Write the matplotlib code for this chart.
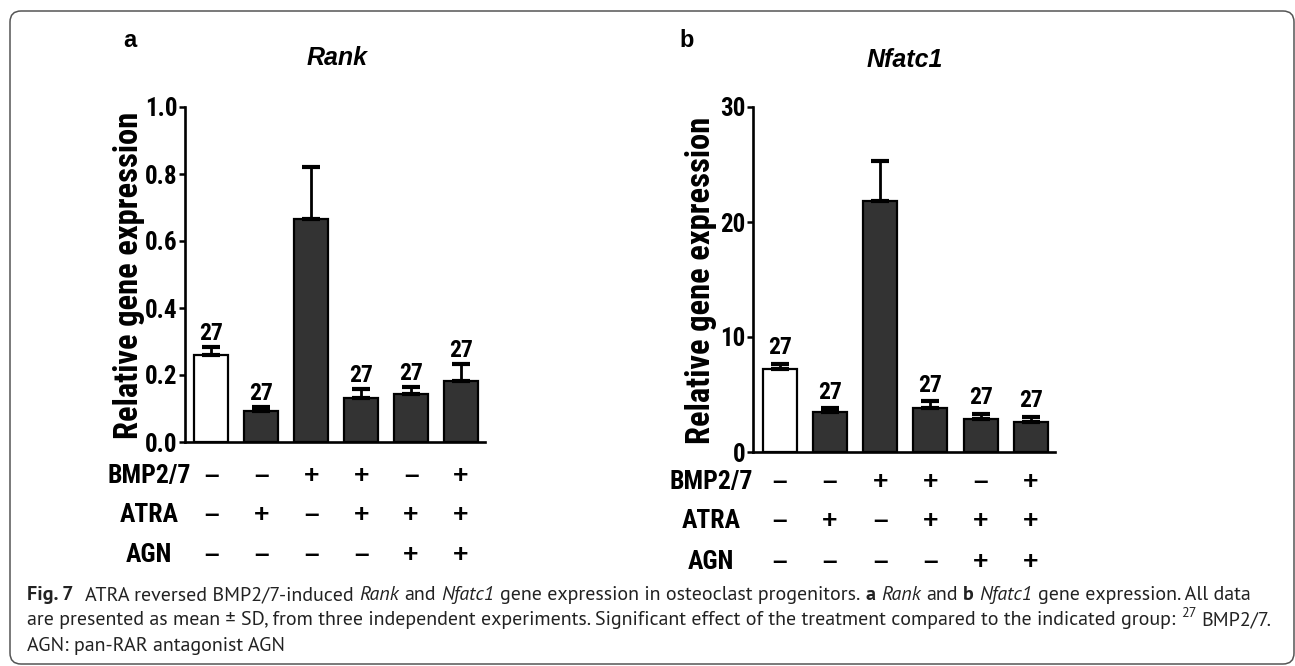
import matplotlib
matplotlib.use("Agg")
import matplotlib.pyplot as plt
from matplotlib import font_manager
from matplotlib.patches import FancyBboxPatch
from matplotlib.transforms import IdentityTransform, blended_transform_factory
import numpy as np

# data
treat_rows = ['BMP2/7', 'ATRA', 'AGN']
bmp = ['–', '–', '+', '+', '–', '+']
atra = ['–', '+', '–', '+', '+', '+']
agn = ['–', '–', '–', '–', '+', '+']
sig = ['27', '27', '', '27', '27', '27']

rank_mean = [0.26, 0.093, 0.665, 0.131, 0.143, 0.182]
rank_sd = [0.024, 0.011, 0.155, 0.027, 0.021, 0.051]
nfatc1_mean = [7.2, 3.5, 21.8, 3.8, 2.9, 2.6]
nfatc1_sd = [0.45, 0.3, 3.5, 0.6, 0.4, 0.44]
bar_colors = ['white', '#333333', '#333333', '#333333', '#333333', '#333333']

W, H = 1295, 666
fonts = font_manager.fontManager.ttflist
names = {f.name for f in fonts}


def pick(cands, default, need_bold=False):
    for c in cands:
        if c in names:
            if need_bold and not any(f.name == c and f.weight in (600, 700, 'bold') for f in fonts):
                continue
            return c
    return default


narrow = pick(['Liberation Sans Narrow', 'Arial Narrow', 'Roboto Condensed',
               'Archivo Narrow', 'PT Sans Narrow', 'Fira Sans Condensed'], None)
if narrow is None:
    narrow, k = 'Liberation Sans', 0.85
else:
    k = 1.0
cap_font = pick(['PT Sans', 'Open Sans'], 'DejaVu Sans', need_bold=True)
plt.rcParams['font.family'] = narrow
plt.rcParams['font.weight'] = 'bold'

fig = plt.figure(figsize=(W / 100, H / 100), dpi=100)


def fx(px):
    return px / W


def fy(py):
    return 1 - py / H


def panel(ax, means, sds, ylim, yticks, fmt, lab_off, ylab_x, ylab_y,
          row_x, row_y, letter, letter_x, title, title_x, title_y):
    x = np.arange(len(means))
    ax.bar(x, means, width=0.68, color=bar_colors, edgecolor='black',
           linewidth=1.6, zorder=2)
    ax.errorbar(x, means, yerr=[np.zeros(len(sds)), sds], fmt='none',
                ecolor='black', elinewidth=2.0, capsize=6.8, capthick=3,
                zorder=3)
    for xi, m, s, t in zip(x, means, sds, sig):
        if t:
            ax.annotate(t, (xi, m + s), xytext=(0, lab_off),
                        textcoords='offset points', ha='center',
                        va='baseline', fontsize=17 * k, fontweight='bold')
    ax.set_xlim(-0.53, 5.48)
    ax.set_ylim(*ylim)
    ax.set_yticks(yticks)
    ax.set_yticklabels([fmt.format(v) for v in yticks])
    ax.set_xticks([])
    for s in ['top', 'right']:
        ax.spines[s].set_visible(False)
    for s in ['left', 'bottom']:
        ax.spines[s].set_linewidth(1.9)
    ax.tick_params(axis='y', length=4.5, width=1.8, pad=1,
                   labelsize=18 * k)
    ax.set_facecolor('none')

    fig.text(fx(ylab_x), fy(ylab_y), 'Relative gene expression',
             rotation=90, ha='center', va='center', fontsize=23.5 * k,
             fontweight='bold')

    trans = blended_transform_factory(ax.transData, fig.transFigure)
    for row, signs, yb in zip(treat_rows, [bmp, atra, agn], row_y):
        fig.text(fx(row_x), fy(yb), row, ha='center', va='baseline',
                 fontsize=18.5 * k, fontweight='bold')
        for xi, sgn in zip(x, signs):
            ax.text(xi, fy(yb), sgn, transform=trans, ha='center',
                    va='baseline', fontsize=19, fontweight='bold',
                    family='Liberation Sans')

    fig.text(fx(letter_x), fy(47), letter, ha='center', va='baseline',
             fontsize=17, fontweight='bold', family='Liberation Sans')
    fig.text(fx(title_x), fy(title_y), title, ha='center', va='baseline',
             fontsize=18, fontweight='bold', style='italic',
             family='Liberation Sans')


axA = fig.add_axes([fx(185), fy(442), fx(300), 335 / H])
panel(axA, rank_mean, rank_sd, (0, 1.0), [0, 0.2, 0.4, 0.6, 0.8, 1.0],
      '{:.1f}', 5, 129, 275, 149, [483, 522, 562], 'a', 130, 'Rank', 337, 65)

axB = fig.add_axes([fx(753), fy(452), fx(302), 345 / H])
panel(axB, nfatc1_mean, nfatc1_sd, (0, 30), [0, 10, 20, 30],
      '{:.0f}', 7, 701, 280, 711, [489, 528, 569], 'b', 687, 'Nfatc1', 905, 67)

# outer rounded frame (pixel coordinates)
frame = FancyBboxPatch((10, 2), 1284, 653,
                       boxstyle='round,pad=0,rounding_size=11',
                       transform=IdentityTransform(), fill=False,
                       edgecolor='#555555', linewidth=1.1)
fig.add_artist(frame)

# caption, built from styled runs
renderer = fig.canvas.get_renderer()


def width_of(text, size, **kw):
    t = fig.text(0, 0, text, fontsize=size, family=cap_font, **kw)
    w = t.get_window_extent(renderer).width
    t.remove()
    return w


def draw_runs(x0, yb, runs, size, draw=True):
    sp = width_of('x x', size, fontweight='normal') - width_of('xx', size, fontweight='normal')
    x = x0
    for text, style, gap in runs:
        kw = dict(fontweight='normal', style='normal')
        sz = size
        dy = 0
        if style == 'b':
            kw['fontweight'] = 'bold'
        elif style == 'i':
            kw['style'] = 'italic'
        elif style == 'sup':
            sz = size * 0.7
            dy = size * 0.55
        if draw:
            t = fig.text(x / W, (H - yb + dy) / H, text, fontsize=sz,
                         family=cap_font, ha='left', va='baseline',
                         color='#222222', **kw)
            w = t.get_window_extent(renderer).width
        else:
            w = width_of(text, sz, **kw)
        x += w + gap * sp
    return x - x0


line1 = [('Fig. 7', 'b', 2.2), ('ATRA reversed BMP2/7-induced', 'n', 1),
         ('Rank', 'i', 1), ('and', 'n', 1), ('Nfatc1', 'i', 1),
         ('gene expression in osteoclast progenitors.', 'n', 1),
         ('a', 'b', 1), ('Rank', 'i', 1), ('and', 'n', 1), ('b', 'b', 1),
         ('Nfatc1', 'i', 1), ('gene expression. All data', 'n', 0)]
line2 = [('are presented as mean ± SD, from three independent experiments. '
          'Significant effect of the treatment compared to the indicated group:', 'n', 1),
         ('27', 'sup', 1), ('BMP2/7.', 'n', 0)]
line3 = [('AGN: pan-RAR antagonist AGN', 'n', 0)]

base = 12.0
w1 = draw_runs(0, 0, line1, base, draw=False)
cap_size = base * 1223 / w1
draw_runs(27, 600, line1, cap_size)
draw_runs(27, 625, line2, cap_size)
draw_runs(27, 651, line3, cap_size)

fig.savefig('out.png', dpi=100, facecolor='white')
plt.close(fig)
